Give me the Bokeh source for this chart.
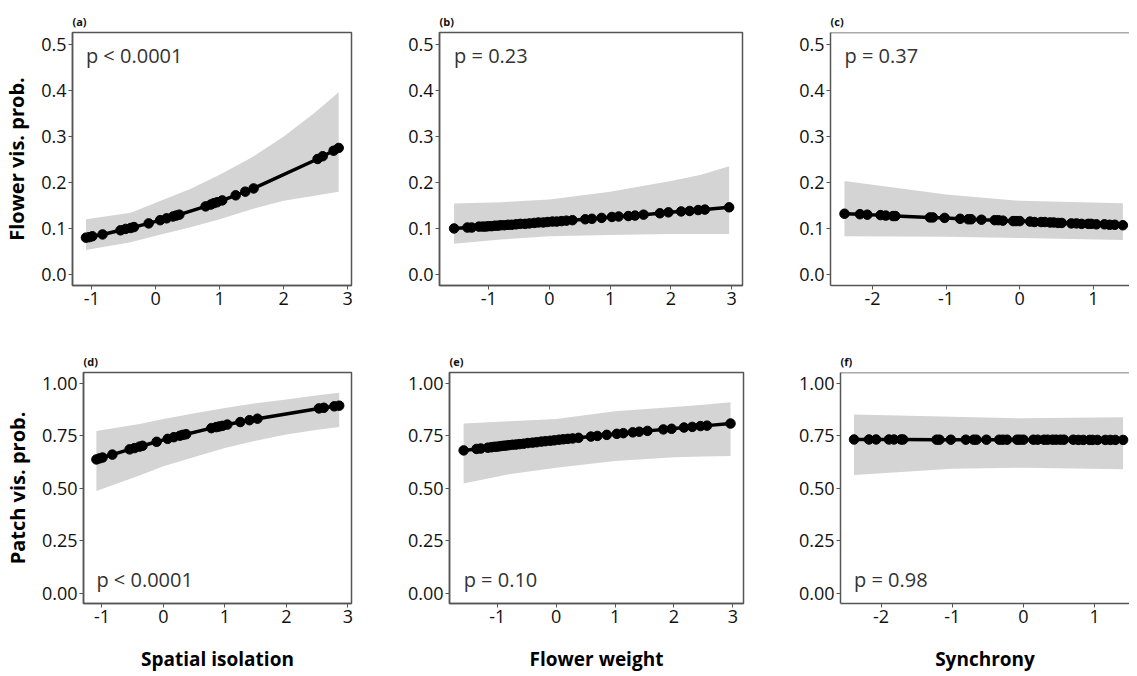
from bokeh.plotting import figure
from bokeh.layouts import column, row
from bokeh.models import Range1d, FixedTicker, Span
from bokeh.core.properties import value
from bokeh.embed import file_html
from bokeh.resources import INLINE

# ---------------- data ----------------
iso_x = [-1.09, -1.04, -0.99, -0.83, -0.55, -0.47, -0.39, -0.34, -0.11, 0.07, 0.17, 0.27, 0.32,
         0.37, 0.78, 0.86, 0.91, 0.96, 1.04, 1.25, 1.40, 1.53, 2.53, 2.61, 2.78, 2.86]
flower_iso_y = [0.079, 0.080, 0.082, 0.086, 0.095, 0.098, 0.100, 0.102, 0.110, 0.117, 0.121, 0.125, 0.127,
                0.129, 0.147, 0.151, 0.154, 0.156, 0.160, 0.171, 0.179, 0.186, 0.250, 0.256, 0.268, 0.274]
patch_iso_y = [0.636, 0.641, 0.645, 0.659, 0.684, 0.690, 0.697, 0.701, 0.720, 0.734, 0.742, 0.749, 0.753,
               0.756, 0.785, 0.790, 0.793, 0.796, 0.802, 0.814, 0.823, 0.830, 0.879, 0.882, 0.889, 0.892]

wt_x = [-1.57, -1.35, -1.28, -1.16, -1.10, -1.05, -1.00, -0.95, -0.90, -0.85, -0.80, -0.74, -0.68, -0.62,
        -0.55, -0.48, -0.40, -0.33, -0.25, -0.18, -0.10, -0.03, 0.05, 0.12, 0.20, 0.28, 0.38, 0.59, 0.70,
        0.86, 1.03, 1.14, 1.30, 1.41, 1.55, 1.82, 1.96, 2.17, 2.31, 2.45, 2.56, 2.96]
flower_wt_y = [0.099, 0.101, 0.101, 0.103, 0.103, 0.103, 0.104, 0.104, 0.105, 0.105, 0.106, 0.106, 0.107, 0.107,
               0.108, 0.109, 0.109, 0.110, 0.111, 0.112, 0.112, 0.113, 0.114, 0.114, 0.115, 0.116, 0.117, 0.119,
               0.120, 0.122, 0.124, 0.125, 0.126, 0.127, 0.129, 0.132, 0.134, 0.136, 0.137, 0.139, 0.140, 0.145]
patch_wt_y = [0.679, 0.686, 0.688, 0.692, 0.694, 0.696, 0.697, 0.699, 0.701, 0.702, 0.704, 0.706, 0.707, 0.709,
              0.711, 0.714, 0.716, 0.718, 0.721, 0.723, 0.725, 0.727, 0.730, 0.732, 0.734, 0.736, 0.739, 0.745,
              0.748, 0.753, 0.758, 0.761, 0.765, 0.768, 0.772, 0.779, 0.782, 0.788, 0.791, 0.795, 0.797, 0.807]

syn_x = [-2.38, -2.17, -2.07, -1.89, -1.82, -1.72, -1.69, -1.22, -1.18, -1.02, -0.81, -0.70, -0.66,
         -0.52, -0.34, -0.29, -0.23, -0.09, -0.05, 0.00, 0.14, 0.20, 0.29, 0.34, 0.41, 0.46, 0.52, 0.57,
         0.70, 0.77, 0.84, 0.93, 0.97, 1.04, 1.15, 1.22, 1.29, 1.40]
flower_syn_y = [0.131, 0.130, 0.129, 0.128, 0.127, 0.126, 0.126, 0.123, 0.123, 0.122, 0.120, 0.119, 0.119,
                0.118, 0.117, 0.117, 0.116, 0.115, 0.115, 0.115, 0.114, 0.113, 0.113, 0.113, 0.112, 0.112,
                0.111, 0.111, 0.110, 0.110, 0.109, 0.109, 0.109, 0.108, 0.108, 0.107, 0.107, 0.106]
patch_syn_y = [0.731, 0.731, 0.731, 0.731, 0.731, 0.731, 0.731, 0.730, 0.730, 0.730, 0.730, 0.730, 0.730,
               0.730, 0.730, 0.730, 0.730, 0.730, 0.730, 0.730, 0.730, 0.730, 0.730, 0.730, 0.730, 0.730,
               0.730, 0.730, 0.730, 0.729, 0.729, 0.729, 0.729, 0.729, 0.729, 0.729, 0.729, 0.729]

# confidence ribbons
band_iso_x = [-1.09, -0.39, 0.0, 0.53, 1.0, 1.5, 2.0, 2.48, 2.86]
flower_iso_lo = [0.052, 0.069, 0.083, 0.101, 0.119, 0.141, 0.159, 0.170, 0.179]
flower_iso_hi = [0.119, 0.133, 0.155, 0.184, 0.216, 0.253, 0.299, 0.350, 0.395]
patch_iso_lo = [0.486, 0.560, 0.604, 0.650, 0.691, 0.725, 0.755, 0.776, 0.791]
patch_iso_hi = [0.771, 0.805, 0.829, 0.857, 0.881, 0.903, 0.921, 0.940, 0.953]

band_wt_x = [-1.57, -0.8, 0.0, 1.0, 2.0, 2.5, 2.96]
flower_wt_lo = [0.066, 0.075, 0.082, 0.085, 0.087, 0.087, 0.087]
flower_wt_hi = [0.153, 0.156, 0.162, 0.179, 0.202, 0.216, 0.234]
patch_wt_lo = [0.522, 0.565, 0.597, 0.628, 0.647, 0.650, 0.652]
patch_wt_hi = [0.807, 0.818, 0.829, 0.866, 0.886, 0.897, 0.908]

band_syn_x = [-2.38, -1.0, 0.0, 1.40]
flower_syn_lo = [0.082, 0.081, 0.078, 0.074]
flower_syn_hi = [0.202, 0.173, 0.159, 0.154]
patch_syn_lo = [0.562, 0.592, 0.597, 0.589]
patch_syn_hi = [0.850, 0.839, 0.832, 0.837]

panel_tags = ["(a)", "(b)", "(c)", "(d)", "(e)", "(f)"]
p_texts = ["p < 0.0001", "p = 0.23", "p = 0.37", "p < 0.0001", "p = 0.10", "p = 0.98"]
x_titles = ["Spatial isolation", "Flower weight", "Synchrony"]
y_titles = ["Flower vis. prob.", "Patch vis. prob."]
top_ticks = [0.0, 0.1, 0.2, 0.3, 0.4, 0.5]
bottom_ticks = [0.0, 0.25, 0.5, 0.75, 1.0]
top_tick_labels = {0.0: "0.0", 0.1: "0.1", 0.2: "0.2", 0.3: "0.3", 0.4: "0.4", 0.5: "0.5"}
bottom_tick_labels = {0.0: "0.00", 0.25: "0.25", 0.5: "0.50", 0.75: "0.75", 1.0: "1.00"}
x_tick_labels = {-2: "-2", -1: "-1", 0: "0", 1: "1", 2: "2", 3: "3"}

FONT = "Open Sans"
FRAME = "#555555"


def panel(tag, ptext, x, y, bx, blo, bhi, xr, xticks, yr, yticks, ylabels,
          width, height, left, right, top, bottom, ytitle=None, xtitle=None,
          ptext_y=0.475, open_right=False):
    p = figure(width=width, height=height, output_backend="svg", toolbar_location=None,
               x_range=Range1d(*xr), y_range=Range1d(*yr),
               min_border_left=left, min_border_right=right,
               min_border_top=top, min_border_bottom=bottom,
               title=tag)
    p.title.text_font = FONT
    p.title.text_font_size = "11px"
    p.title.text_font_style = "bold"
    p.title.text_color = "#111111"
    p.title.align = "left"
    p.title.standoff = 7
    p.grid.visible = False
    p.background_fill_color = "white"
    p.border_fill_color = "white"
    if open_right:
        p.outline_line_color = None
        p.add_layout(Span(location=yr[1], dimension="width", line_color=FRAME, line_width=1.5))
    else:
        p.outline_line_color = FRAME
        p.outline_line_width = 1.5
    for ax in (p.xaxis[0], p.yaxis[0]):
        ax.axis_line_color = FRAME
        ax.axis_line_width = 1.5
        ax.major_tick_line_color = FRAME
        ax.major_tick_out = 4
        ax.major_tick_in = 0
        ax.minor_tick_line_color = None
        ax.major_label_text_font = FONT
        ax.major_label_text_font_size = "18px"
        ax.major_label_text_color = "#111111"
        ax.major_label_standoff = 2
        ax.axis_label_text_font = FONT
        ax.axis_label_text_font_style = "bold"
        ax.axis_label_text_color = "#000000"
    p.xaxis.ticker = FixedTicker(ticks=xticks)
    p.xaxis.major_label_overrides = x_tick_labels
    p.yaxis.ticker = FixedTicker(ticks=yticks)
    p.yaxis.major_label_overrides = ylabels
    if ytitle:
        p.yaxis.axis_label = ytitle
        p.yaxis.axis_label_text_font_size = "20px"
        p.yaxis.axis_label_standoff = 8
    if xtitle:
        p.xaxis.axis_label = xtitle
        p.xaxis.axis_label_text_font_size = "19px"
        p.xaxis.axis_label_standoff = 20

    p.varea(x=bx, y1=blo, y2=bhi, fill_color="#d4d4d4", fill_alpha=1.0)
    p.line(x, y, line_color="black", line_width=3.5)
    p.scatter(x, y, size=9.5, fill_color="black", line_color="black")
    p.text(x=[x[0]], y=[ptext_y], text=[ptext], text_font=value(FONT),
           text_font_size="20px", text_color="#333333",
           text_align="left", text_baseline="middle")
    return p


xr_iso = (-1.3, 3.06)
xr_wt = (-1.81, 3.18)
xr_syn = (-2.57, 1.49)
ticks_iso = [-1, 0, 1, 2, 3]
ticks_wt = [-1, 0, 1, 2, 3]
ticks_syn = [-2, -1, 0, 1]
yr_top = (-0.025, 0.525)
yr_bot = (-0.05, 1.05)

pa = panel(panel_tags[0], p_texts[0], iso_x, flower_iso_y, band_iso_x, flower_iso_lo, flower_iso_hi,
           xr_iso, ticks_iso, yr_top, top_ticks, top_tick_labels,
           372, 320, 68, 21, 32, 35, ytitle=y_titles[0])
pb = panel(panel_tags[1], p_texts[1], wt_x, flower_wt_y, band_wt_x, flower_wt_lo, flower_wt_hi,
           xr_wt, ticks_wt, yr_top, top_ticks, top_tick_labels,
           390, 320, 67, 20, 32, 35)
pc = panel(panel_tags[2], p_texts[2], syn_x, flower_syn_y, band_syn_x, flower_syn_lo, flower_syn_hi,
           xr_syn, ticks_syn, yr_top, top_ticks, top_tick_labels,
           367, 320, 68, 0, 32, 35, open_right=True)

pd = panel(panel_tags[3], p_texts[3], iso_x, patch_iso_y, band_iso_x, patch_iso_lo, patch_iso_hi,
           xr_iso, ticks_iso, yr_bot, bottom_ticks, bottom_tick_labels,
           372, 354, 78, 21, 52, 70, ytitle=y_titles[1], xtitle=x_titles[0], ptext_y=0.065)
pe = panel(panel_tags[4], p_texts[4], wt_x, patch_wt_y, band_wt_x, patch_wt_lo, patch_wt_hi,
           xr_wt, ticks_wt, yr_bot, bottom_ticks, bottom_tick_labels,
           390, 354, 77, 19, 52, 70, xtitle=x_titles[1], ptext_y=0.065)
pf = panel(panel_tags[5], p_texts[5], syn_x, patch_syn_y, band_syn_x, patch_syn_lo, patch_syn_hi,
           xr_syn, ticks_syn, yr_bot, bottom_ticks, bottom_tick_labels,
           367, 354, 78, 0, 52, 70, xtitle=x_titles[2], ptext_y=0.065, open_right=True)

layout = column(row(pa, pb, pc), row(pd, pe, pf))

open("out.html", "w").write(file_html(layout, INLINE))
